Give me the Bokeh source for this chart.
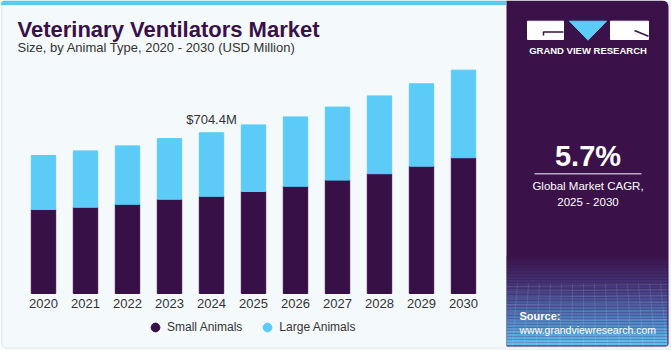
from bokeh.plotting import figure
from bokeh.models import (ColumnDataSource, Label, Legend, LegendItem, BoxAnnotation,
                          Range1d, FactorRange)
from bokeh.layouts import row
from bokeh.embed import file_html
from bokeh.resources import INLINE
from bokeh.core.properties import value

# ---------------- data ----------------
years = ["2020", "2021", "2022", "2023", "2024", "2025", "2026", "2027", "2028", "2029", "2030"]
small_animals = [368, 378, 391, 413, 426, 447, 470, 497, 525, 558, 595]
large_animals = [237, 247, 256, 266, 278.4, 292, 304, 320, 341, 361, 384]
series_names = ["Small Animals", "Large Animals"]
annot_year = "2024"
annot_text = "$704.4M"
cagr_text = "5.7%"
cagr_label = ["Global Market CAGR,", "2025 - 2030"]
title_text = "Veterinary Ventilators Market"
subtitle_text = "Size, by Animal Type, 2020 - 2030 (USD Million)"

# ---------------- style ----------------
BG = "#f4f9fc"
DARK = "#371048"
LIGHT = "#5ccbf8"
PANEL = "#3a1149"
TITLE = "#3a1049"
TXT = "#333333"
FONT = "Liberation Sans"

totals = [s + l for s, l in zip(small_animals, large_animals)]
src = ColumnDataSource(dict(year=years, small=small_animals, total=totals))

# frame spans the whole 506x350 canvas; baseline 57 px above the bottom
PX = 4.383  # USD Million per pixel
p = figure(x_range=FactorRange(*years, range_padding=22 / 42, range_padding_units="absolute"),
           y_range=Range1d(-57 * PX, 293 * PX),
           width=506, height=350, output_backend="svg", toolbar_location=None,
           y_axis_location=None, min_border=0,
           background_fill_color=BG, border_fill_color=BG, outline_line_color=None)
p.grid.visible = False

# panel border & top strip
p.add_layout(BoxAnnotation(left=1, right=520, top=349, bottom=2.5,
                           left_units="screen", right_units="screen",
                           top_units="screen", bottom_units="screen",
                           fill_alpha=0, line_color="#d3d7db", line_width=1.5,
                           border_radius=6, level="underlay"))
p.add_layout(BoxAnnotation(left=0.5, right=520, top=350, bottom=345.5,
                           left_units="screen", right_units="screen",
                           top_units="screen", bottom_units="screen",
                           fill_color="#5bc8f4", fill_alpha=1, line_color=None,
                           border_radius=dict(top_left=4, top_right=0, bottom_right=0, bottom_left=0)))

p.vbar(x="year", top="small", width=0.58, source=src, color=DARK)
p.vbar(x="year", bottom="small", top="total", width=0.58, source=src, color=LIGHT)

ann = ColumnDataSource(dict(x=[annot_year], y=[totals[years.index(annot_year)]], t=[annot_text]))
p.text(x="x", y="y", text="t", source=ann, text_align="center", text_baseline="alphabetic",
       y_offset=-13, text_font=value(FONT), text_font_size="13px", text_color=TXT)

ax = p.xaxis[0]
ax.fixed_location = 0
ax.axis_line_color = None
ax.major_tick_line_color = None
ax.major_tick_out = 0
ax.major_tick_in = 0
ax.minor_tick_line_color = None
ax.major_label_standoff = 5
ax.major_label_text_font = FONT
ax.major_label_text_font_size = "13px"
ax.major_label_text_color = TXT

p.add_layout(Label(x=17, y=321.5, x_units="screen", y_units="screen", text=title_text,
                   text_baseline="alphabetic",
                   text_font=FONT, text_font_style="bold", text_font_size="22px",
                   text_color=TITLE))
p.add_layout(Label(x=17, y=303, x_units="screen", y_units="screen", text=subtitle_text,
                   text_baseline="alphabetic",
                   text_font=FONT, text_font_size="13px", text_color=TXT))

nan = float("nan")
r1 = p.scatter(x=[years[0]], y=[nan], marker="circle", size=9, color=DARK)
r2 = p.scatter(x=[years[0]], y=[nan], marker="circle", size=9, color=LIGHT)
leg = Legend(items=[LegendItem(label=series_names[0], renderers=[r1]),
                    LegendItem(label=series_names[1], renderers=[r2])],
             location=(144, 12), orientation="horizontal", glyph_width=22, glyph_height=22,
             label_height=22, label_standoff=1, spacing=14, padding=0, margin=0,
             border_line_color=None, background_fill_alpha=0,
             label_text_font=FONT, label_text_font_size="12px", label_text_color=TXT)
p.add_layout(leg)

# ---------------- right panel ----------------
q = figure(width=165, height=350, x_range=Range1d(506, 671), y_range=Range1d(350, 0),
           min_border=0, toolbar_location=None, output_backend="svg",
           x_axis_location=None, y_axis_location=None,
           background_fill_color="#eef2f5", border_fill_color="#eef2f5", outline_line_color=None)
q.grid.visible = False

q.add_layout(BoxAnnotation(left=500, right=668, top=0, bottom=346, fill_color=PANEL,
                           fill_alpha=1, line_color=None, level="underlay",
                           border_radius=dict(top_left=0, top_right=6, bottom_right=3, bottom_left=0)))

def hex2rgb(h):
    return tuple(int(h[i:i + 2], 16) for i in (1, 3, 5))

stops = [(255, "#3a1149"), (288, "#443a7c"), (318, "#4f7cbd"), (346, "#5cc4f2")]
b_top, b_bot, b_col = [], [], []
for y0 in range(255, 346, 3):
    ym = y0 + 1.5
    for (ya, ca), (yb, cb) in zip(stops[:-1], stops[1:]):
        if ya <= ym <= yb:
            t = (ym - ya) / (yb - ya)
            a, b = hex2rgb(ca), hex2rgb(cb)
            c = tuple(int(round(a[k] + (b[k] - a[k]) * t)) for k in range(3))
            b_col.append("#%02x%02x%02x" % c)
            break
    b_top.append(y0)
    b_bot.append(min(y0 + 3, 346))
q.quad(left=506, right=667, top=b_top, bottom=b_bot, color=b_col, line_color=None)

# faint perspective grid texture in the source box
gx = [[506 + 11 * i, 506 + 11 * i - 6 + 0.08 * (11 * i)] for i in range(0, 16)]
gy = [[283, 346] for _ in range(16)]
q.multi_line(gx, gy, line_color="white", line_alpha=0.10, line_width=1)
hy = [286, 291, 297, 304, 312, 321, 331, 342]
q.multi_line([[506, 667] for _ in hy], [[h, h - 2] for h in hy],
             line_color="white", line_alpha=0.10, line_width=1)

# logo
q.quad(left=[527, 610], right=[563, 648], top=[20.7, 20.7], bottom=[39, 39], color="white")
q.patch([569, 606, 587.5], [20.7, 20.7, 39.7], color=LIGHT)
q.line([543, 543, 563], [35, 31.5, 31.5], line_color=PANEL, line_width=1.5)
q.line([634, 648], [30, 35.7], line_color=PANEL, line_width=1.5)

def plabel(x, y, text, size, bold=False, align="center"):
    # alphabetic baseline correction (~0.34 em)
    fs = float(size.replace("px", ""))
    q.add_layout(Label(x=x, y=y - 0.34 * fs, text=text, text_align=align,
                       text_baseline="alphabetic", text_font=FONT,
                       text_font_style="bold" if bold else "normal",
                       text_font_size=size, text_color="white"))

plabel(587.5, 53.5, "GRAND VIEW RESEARCH", "9.5px", bold=True)
plabel(587.5, 165, cagr_text, "29px", bold=True)
q.line([534, 641], [173.3, 173.3], line_color="#b8aac4", line_width=1.5)
plabel(587.5, 189.5, cagr_label[0], "11.5px")
plabel(587.5, 205.5, cagr_label[1], "11.5px")
plabel(519, 319.5, "Source:", "11px", bold=True, align="left")
plabel(519, 333, "www.grandviewresearch.com", "10.5px", align="left")

layout = row(p, q)
open("out.html", "w").write(file_html(layout, INLINE))
